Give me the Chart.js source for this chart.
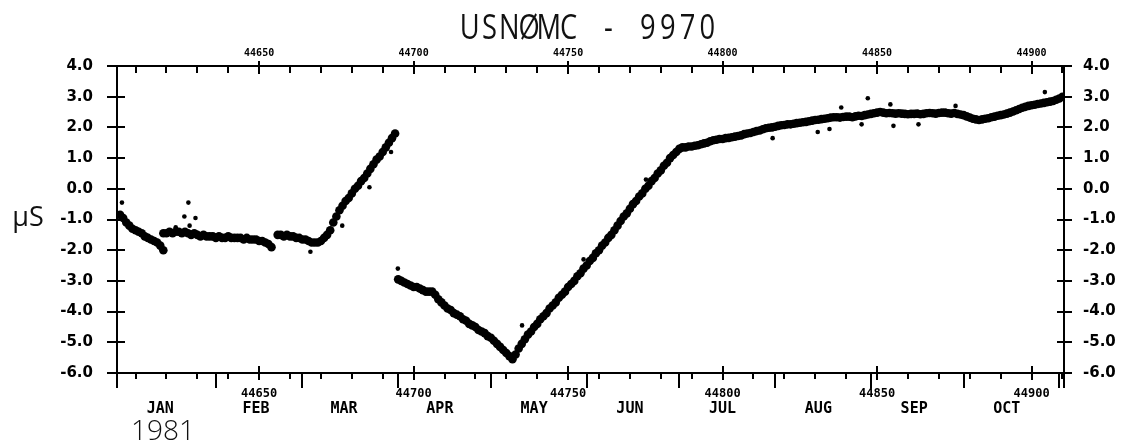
<!DOCTYPE html>
<html>
<head>
<meta charset="utf-8">
<script src="https://cdn.jsdelivr.net/npm/chart.js@4.4.1/dist/chart.umd.min.js"></script>
<style>
html,body{margin:0;padding:0;background:#fff;}
canvas{display:block;}
</style>
</head>
<body>
<canvas id="c" width="1126" height="442"></canvas>
<script>
// ---------------- DATA (MJD days, microseconds) ----------------
const titleText = "USNØMC - 9970";
const yearText = "1981";
const yUnitText = "µS";

const xMin = 44604;
const xMax = 44910.5;
const yMin = -6;
const yMax = 4;

const mjdLabelTicks = [44650, 44700, 44750, 44800, 44850, 44900];
const monthNames = ["JAN", "FEB", "MAR", "APR", "MAY", "JUN", "JUL", "AUG", "SEP", "OCT"];
const monthLabelDays = [44618, 44649, 44677.5, 44708.5, 44739, 44770, 44800, 44831, 44862, 44892];
const monthStartDays = [44636, 44664, 44695, 44725, 44756, 44786, 44817, 44848, 44878, 44909];

// segment 1: Jan 1 .. Jan 15
const seg1Start = 44605;
const seg1Values = [-0.85, -0.95, -1.1, -1.2, -1.3, -1.35, -1.4, -1.45, -1.55, -1.6, -1.65, -1.7, -1.75, -1.85, -2.0];

// segment 2: after first step
const seg2Start = 44619;
const seg2Values = [-1.45, -1.45, -1.4, -1.45, -1.4, -1.4, -1.45, -1.4, -1.45, -1.5,
  -1.45, -1.5, -1.55, -1.5, -1.55, -1.55, -1.55, -1.6, -1.55, -1.6,
  -1.6, -1.55, -1.6, -1.6, -1.6, -1.6, -1.65, -1.6, -1.65, -1.65,
  -1.65, -1.7, -1.7, -1.75, -1.8, -1.9];

// segment 3: flat then steep rise to +1.8
const seg3Start = 44656;
const seg3Values = [-1.5, -1.5, -1.55, -1.5, -1.55, -1.55, -1.6, -1.6, -1.65, -1.65,
  -1.7, -1.75, -1.75, -1.75, -1.7, -1.6, -1.5, -1.35, -1.1, -0.9,
  -0.7, -0.55, -0.4, -0.3, -0.15, 0.0, 0.1, 0.25, 0.35, 0.5,
  0.65, 0.8, 0.95, 1.05, 1.2, 1.35, 1.5, 1.65, 1.8];

// segment 4: after reset, descending to the V
const seg4Start = 44695;
const seg4Values = [-2.95, -3.0, -3.05, -3.1, -3.15, -3.2, -3.2, -3.25, -3.3, -3.35,
  -3.35, -3.35, -3.45, -3.6, -3.7, -3.8, -3.9, -3.95, -4.05, -4.1,
  -4.15, -4.25, -4.3, -4.4, -4.45, -4.5, -4.6, -4.65, -4.7, -4.8,
  -4.85, -4.95, -5.05, -5.15, -5.25, -5.35, -5.45, -5.55];

// segment 5: rising branch
const seg5Start = 44733;
const seg5Values = [-5.4, -5.2, -5.05, -4.9, -4.75, -4.65, -4.5, -4.4, -4.25, -4.15,
  -4.05, -3.9, -3.8, -3.7, -3.55, -3.45, -3.35, -3.2, -3.1, -3.0,
  -2.85, -2.75, -2.6, -2.5, -2.35, -2.25, -2.1, -2.0, -1.85, -1.75,
  -1.6, -1.5, -1.35, -1.2, -1.05, -0.9, -0.8, -0.65, -0.5, -0.4,
  -0.25, -0.15, 0.0, 0.1, 0.25, 0.35, 0.5, 0.6, 0.75, 0.85,
  1.0, 1.1, 1.2, 1.3, 1.35];

// segment 6: slow drift plateau
const seg6Start = 44788;
const seg6Values = [1.35, 1.38, 1.38, 1.4, 1.42, 1.45, 1.48, 1.5, 1.55, 1.58,
  1.6, 1.62, 1.62, 1.65, 1.66, 1.68, 1.7, 1.72, 1.74, 1.78,
  1.8, 1.82, 1.85, 1.88, 1.9, 1.94, 1.97, 1.99, 2.0, 2.02,
  2.05, 2.07, 2.08, 2.1, 2.1, 2.12, 2.14, 2.15, 2.17, 2.18,
  2.2, 2.22, 2.24, 2.25, 2.27, 2.28, 2.3, 2.32, 2.33, 2.33,
  2.32, 2.34, 2.35, 2.35, 2.33, 2.36, 2.38, 2.37, 2.4, 2.42,
  2.44, 2.46, 2.48, 2.5, 2.48, 2.46, 2.47, 2.46, 2.45, 2.46,
  2.45, 2.44, 2.43, 2.44, 2.44, 2.45, 2.43, 2.44, 2.46, 2.47,
  2.46, 2.45, 2.47, 2.48, 2.48, 2.46, 2.45, 2.47, 2.44, 2.42,
  2.4, 2.36, 2.32, 2.28, 2.26, 2.24, 2.26, 2.28, 2.3, 2.33,
  2.35, 2.38, 2.4, 2.42, 2.45, 2.48, 2.52, 2.56, 2.6, 2.64,
  2.67, 2.7, 2.72, 2.74, 2.76, 2.78, 2.8, 2.82, 2.84, 2.86,
  2.9, 2.94, 3.0];

// isolated points
const outlierDays = [44605.6, 44623, 44625.8, 44627.1, 44627.5, 44629.4, 44666.6, 44676.9, 44685.7, 44692.7,
  44694.9, 44735.1, 44755, 44775.2, 44816.2, 44830.8, 44834.6, 44838.4, 44845, 44847,
  44854.3, 44855.3, 44863.4, 44875.4, 44904.3];
const outlierValues = [-0.45, -1.25, -0.9, -0.45, -1.2, -0.95, -2.05, -1.2, 0.05, 1.2,
  -2.6, -4.45, -2.3, 0.3, 1.65, 1.85, 1.95, 2.65, 2.1, 2.95,
  2.75, 2.05, 2.1, 2.7, 3.15];

// ---------------- BUILD ----------------
function toPoints(start, vals) { return vals.map((v, i) => ({ x: start + i, y: v })); }
const bandPoints = [].concat(
  toPoints(seg1Start, seg1Values), toPoints(seg2Start, seg2Values),
  toPoints(seg3Start, seg3Values), toPoints(seg4Start, seg4Values),
  toPoints(seg5Start, seg5Values), toPoints(seg6Start, seg6Values));
const outlierPoints = outlierDays.map((d, i) => ({ x: d, y: outlierValues[i] }));

const MONO = "'DejaVu Sans Mono', 'Liberation Mono', monospace";
const SANS = "'DejaVu Sans', 'Liberation Sans', sans-serif";
const THIN = "'Open Sans', 'Lato', 'DejaVu Sans', sans-serif";

function line(ctx, x1, y1, x2, y2) { ctx.beginPath(); ctx.moveTo(x1, y1); ctx.lineTo(x2, y2); ctx.stroke(); }

function drawSpaced(ctx, text, cx, baseY, pitch, font, sx) {
  const chars = Array.from(text);
  const n = chars.length;
  ctx.font = font;
  ctx.textAlign = 'center';
  ctx.textBaseline = 'alphabetic';
  chars.forEach((ch, i) => {
    const x = cx + (i - (n - 1) / 2) * pitch;
    ctx.save();
    ctx.translate(x, baseY);
    ctx.scale(sx, 1);
    ctx.fillText(ch, 0, 0);
    ctx.restore();
  });
}

const plotterPlugin = {
  id: 'plotter',
  afterDraw(chart) {
    const { ctx, chartArea: a, scales } = chart;
    const xs = scales.x, ys = scales.y;
    ctx.save();
    ctx.strokeStyle = '#000';
    ctx.lineWidth = 2;
    // minor ticks every 10 days
    for (let v = Math.ceil(xMin / 10) * 10; v <= xMax; v += 10) {
      if (mjdLabelTicks.includes(v)) continue;
      const px = Math.round(xs.getPixelForValue(v));
      line(ctx, px, a.top, px, a.top + 7);
      line(ctx, px, a.bottom, px, a.bottom + 6);
    }
    // major ticks every 50 days
    mjdLabelTicks.forEach(v => {
      const px = Math.round(xs.getPixelForValue(v));
      line(ctx, px, a.top - 5, px, a.top + 8);
      line(ctx, px, a.bottom - 7, px, a.bottom + 7);
    });
    // month boundaries
    monthStartDays.forEach(v => {
      const px = Math.round(xs.getPixelForValue(v));
      line(ctx, px, a.bottom, px, a.bottom + 15);
    });
    // y ticks both sides
    for (let v = yMin; v <= yMax; v += 1) {
      const py = Math.round(ys.getPixelForValue(v));
      line(ctx, a.left - 10, py, a.left + 8, py);
      line(ctx, a.right - 7, py, a.right + 8, py);
    }
    // axis extensions below bottom
    line(ctx, a.left, a.bottom, a.left, a.bottom + 15);
    line(ctx, a.right, a.bottom, a.right, a.bottom + 15);

    ctx.fillStyle = '#111';
    // title, centered over the plot area, plotter-style even pitch
    drawSpaced(ctx, titleText, (a.left + a.right) / 2 - 2, 39, 19.8, "400 35px " + THIN, 0.78);
    // unit label
    ctx.font = "400 27px " + THIN;
    ctx.textAlign = 'center';
    ctx.textBaseline = 'alphabetic';
    ctx.fillText(yUnitText, 28, 226);
    // year
    ctx.font = "300 28px " + THIN;
    ctx.fillText(yearText, 163, 440);
    ctx.restore();
  }
};

const xCommon = {
  type: 'linear', min: xMin, max: xMax,
  grid: { display: false, drawTicks: false }
};

new Chart(document.getElementById('c'), {
  type: 'scatter',
  data: {
    datasets: [
      { label: 'band', data: bandPoints, xAxisID: 'x', yAxisID: 'y',
        pointRadius: 4.3, pointBorderWidth: 0, backgroundColor: '#000', borderColor: '#000' },
      { label: 'outliers', data: outlierPoints, xAxisID: 'x', yAxisID: 'y',
        pointRadius: 2.3, pointBorderWidth: 0, backgroundColor: '#000', borderColor: '#000' }
    ]
  },
  options: {
    responsive: false,
    devicePixelRatio: 1,
    animation: false,
    layout: { padding: 0 },
    plugins: { legend: { display: false }, title: { display: false }, tooltip: { enabled: false } },
    scales: {
      x: Object.assign({}, xCommon, {
        position: 'bottom', weight: 0,
        border: { display: true, color: '#000', width: 2 },
        afterBuildTicks: s => { s.ticks = mjdLabelTicks.map(v => ({ value: v })); },
        afterFit: s => { s.height = 26; },
        ticks: { autoSkip: false, maxRotation: 0, padding: 14, color: '#000',
          font: { family: MONO, size: 12, weight: 'bold' }, callback: v => String(v) }
      }),
      xmon: Object.assign({}, xCommon, {
        position: 'bottom', weight: 1,
        border: { display: false },
        afterBuildTicks: s => { s.ticks = monthLabelDays.map(v => ({ value: v })); },
        afterFit: s => { s.height = 43; },
        ticks: { autoSkip: false, maxRotation: 0, padding: 1, color: '#000',
          font: { family: MONO, size: 15, weight: 'bold' },
          callback: (v, i) => monthNames[i] }
      }),
      xt: Object.assign({}, xCommon, {
        position: 'top',
        border: { display: true, color: '#000', width: 2 },
        afterBuildTicks: s => { s.ticks = mjdLabelTicks.map(v => ({ value: v })); },
        afterFit: s => { s.height = 66; },
        ticks: { autoSkip: false, maxRotation: 0, padding: 7, color: '#000',
          font: { family: MONO, size: 10, weight: 'bold' }, callback: v => String(v) }
      }),
      y: {
        type: 'linear', position: 'left', min: yMin, max: yMax,
        grid: { display: false, drawTicks: false },
        border: { display: true, color: '#000', width: 2 },
        afterFit: s => { s.width = 117; },
        ticks: { stepSize: 1, padding: 24, color: '#000',
          font: { family: SANS, size: 15, weight: 'bold' }, callback: v => Number(v).toFixed(1) }
      },
      y2: {
        type: 'linear', position: 'right', min: yMin, max: yMax,
        grid: { display: false, drawTicks: false },
        border: { display: true, color: '#000', width: 2 },
        afterFit: s => { s.width = 62; },
        ticks: { stepSize: 1, padding: 19, color: '#000',
          font: { family: SANS, size: 15, weight: 'bold' }, callback: v => Number(v).toFixed(1) }
      }
    }
  },
  plugins: [plotterPlugin]
});
</script>
</body>
</html>
